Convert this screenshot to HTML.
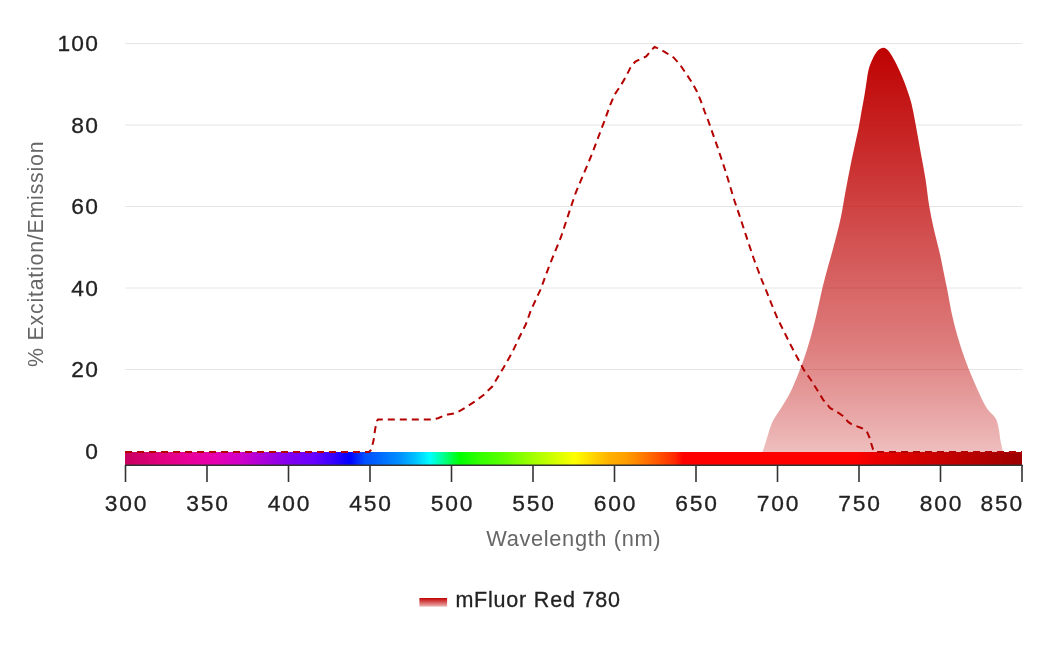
<!DOCTYPE html>
<html><head><meta charset="utf-8"><title>mFluor Red 780 spectrum</title>
<style>
html,body{margin:0;padding:0;background:#fff;}
body{width:1040px;height:650px;overflow:hidden;}
svg{display:block;font-family:'Liberation Sans', Arial, sans-serif;will-change:transform;}
.dk{fill:#222;stroke:#222;stroke-width:0.3px;}
</style></head><body>
<svg width="1040" height="650" viewBox="0 0 1040 650">
<defs>
<linearGradient id="spec" x1="125" y1="0" x2="1022" y2="0" gradientUnits="userSpaceOnUse">
<stop offset="0.0000" stop-color="#c8005e"/>
<stop offset="0.0390" stop-color="#e0007e"/>
<stop offset="0.0725" stop-color="#e8009a"/>
<stop offset="0.1003" stop-color="#e600b0"/>
<stop offset="0.1282" stop-color="#d000c8"/>
<stop offset="0.1616" stop-color="#a000e0"/>
<stop offset="0.1839" stop-color="#8000f0"/>
<stop offset="0.2118" stop-color="#6600ff"/>
<stop offset="0.2341" stop-color="#3000ff"/>
<stop offset="0.2508" stop-color="#0000ff"/>
<stop offset="0.2676" stop-color="#0050ff"/>
<stop offset="0.2787" stop-color="#0060ff"/>
<stop offset="0.3066" stop-color="#0090ff"/>
<stop offset="0.3233" stop-color="#00c0ff"/>
<stop offset="0.3400" stop-color="#00ffff"/>
<stop offset="0.3567" stop-color="#00ff80"/>
<stop offset="0.3735" stop-color="#00ff00"/>
<stop offset="0.3958" stop-color="#33ff00"/>
<stop offset="0.4181" stop-color="#55ff00"/>
<stop offset="0.4459" stop-color="#90ff00"/>
<stop offset="0.4738" stop-color="#c8ff00"/>
<stop offset="0.5017" stop-color="#ffff00"/>
<stop offset="0.5240" stop-color="#ffd000"/>
<stop offset="0.5407" stop-color="#ffb000"/>
<stop offset="0.5574" stop-color="#ffa000"/>
<stop offset="0.5741" stop-color="#ff8000"/>
<stop offset="0.5964" stop-color="#ff5000"/>
<stop offset="0.6132" stop-color="#ff2800"/>
<stop offset="0.6221" stop-color="#ff0000"/>
<stop offset="0.8138" stop-color="#ff0000"/>
<stop offset="0.8305" stop-color="#f00000"/>
<stop offset="0.8640" stop-color="#dc0000"/>
<stop offset="0.9086" stop-color="#c80000"/>
<stop offset="0.9532" stop-color="#b40000"/>
<stop offset="0.9922" stop-color="#a00000"/>
<stop offset="1.0000" stop-color="#a00000"/>
</linearGradient>
<linearGradient id="emg" x1="0" y1="47" x2="0" y2="452" gradientUnits="userSpaceOnUse">
<stop offset="0.0000" stop-color="#be0000" stop-opacity="0.996"/>
<stop offset="0.0321" stop-color="#be0000" stop-opacity="0.976"/>
<stop offset="0.2543" stop-color="#be0000" stop-opacity="0.835"/>
<stop offset="0.5012" stop-color="#be0000" stop-opacity="0.667"/>
<stop offset="0.7481" stop-color="#be0000" stop-opacity="0.502"/>
<stop offset="0.8716" stop-color="#be0000" stop-opacity="0.384"/>
<stop offset="0.9704" stop-color="#be0000" stop-opacity="0.286"/>
<stop offset="1.0000" stop-color="#be0000" stop-opacity="0.257"/>
</linearGradient>
<linearGradient id="leg" x1="0" y1="598" x2="0" y2="606.6" gradientUnits="userSpaceOnUse">
<stop offset="0" stop-color="#c00000"/>
<stop offset="1" stop-color="#eeb4b4"/>
</linearGradient>
</defs>
<rect width="1040" height="650" fill="#fff"/>
<path d="M125 43.5 H1022.5" stroke="#e6e6e6" stroke-width="1"/>
<path d="M125 125.0 H1022.5" stroke="#e6e6e6" stroke-width="1"/>
<path d="M125 206.5 H1022.5" stroke="#e6e6e6" stroke-width="1"/>
<path d="M125 288.0 H1022.5" stroke="#e6e6e6" stroke-width="1"/>
<path d="M125 369.5 H1022.5" stroke="#e6e6e6" stroke-width="1"/>
<text x="99.1" y="51.4" text-anchor="end" font-size="22.8" letter-spacing="1.2" class="dk">100</text>
<text x="99.1" y="132.9" text-anchor="end" font-size="22.8" letter-spacing="1.2" class="dk">80</text>
<text x="99.1" y="214.4" text-anchor="end" font-size="22.8" letter-spacing="1.2" class="dk">60</text>
<text x="99.1" y="295.9" text-anchor="end" font-size="22.8" letter-spacing="1.2" class="dk">40</text>
<text x="99.1" y="377.4" text-anchor="end" font-size="22.8" letter-spacing="1.2" class="dk">20</text>
<text x="99.1" y="458.9" text-anchor="end" font-size="22.8" letter-spacing="1.2" class="dk">0</text>
<text transform="translate(43.1 253.8) rotate(-90)" text-anchor="middle" font-size="21.3" letter-spacing="0.8" fill="#666">% Excitation/Emission</text>
<path d="M762.30 452.00 C762.79 450.85 763.41 449.69 763.80 448.50 C765.46 443.42 766.82 438.07 768.50 433.00 C769.85 428.93 771.07 424.63 773.00 420.80 C775.16 416.50 778.29 412.60 780.80 408.50 C783.90 403.43 787.35 398.33 790.00 393.00 C793.44 386.09 796.38 378.68 799.20 371.50 C801.96 364.49 804.65 357.19 806.90 350.00 C809.73 340.95 812.30 331.50 814.60 322.30 C817.38 311.20 819.67 299.63 822.30 288.50 C823.43 283.69 824.72 278.77 826.00 274.00 C828.31 265.40 830.94 256.61 833.20 248.00 C835.75 238.29 838.47 228.31 840.60 218.50 C842.53 209.62 843.82 200.33 845.50 191.40 C847.49 180.83 849.52 169.93 851.70 159.40 C853.81 149.18 856.41 138.73 858.50 128.50 C859.64 122.92 860.49 117.11 861.50 111.50 C862.50 105.92 863.67 100.19 864.60 94.60 C865.45 89.53 866.10 84.27 866.90 79.20 C867.38 76.16 867.78 73.00 868.50 70.00 C869.07 67.64 869.79 65.21 870.80 63.00 C872.58 59.09 874.21 54.85 876.90 51.50 C878.40 49.63 880.72 48.03 883.10 47.70 C884.78 47.47 886.51 48.79 887.70 50.00 C889.87 52.19 891.44 55.04 893.00 57.70 C895.02 61.15 896.81 64.88 898.50 68.50 C900.37 72.50 902.16 76.70 903.80 80.80 C905.20 84.29 906.51 87.94 907.70 91.50 C909.05 95.53 910.48 99.68 911.50 103.80 C912.89 109.42 913.93 115.31 915.00 121.00 C916.93 131.22 918.75 141.77 920.60 152.00 C922.21 160.91 924.08 170.06 925.50 179.00 C926.91 187.88 927.71 197.13 929.20 206.00 C930.58 214.23 932.37 222.65 934.20 230.80 C936.03 238.96 938.43 247.25 940.30 255.40 C941.40 260.19 942.23 265.19 943.20 270.00 C944.44 276.11 945.78 282.39 947.00 288.50 C949.01 298.56 950.64 309.02 953.00 319.00 C955.20 328.34 957.93 337.85 960.80 347.00 C963.05 354.19 965.74 361.49 968.50 368.50 C971.32 375.68 974.46 383.00 977.70 390.00 C980.57 396.20 983.35 402.72 987.00 408.50 C989.24 412.04 993.20 414.44 995.40 418.00 C997.04 420.67 997.72 423.94 998.40 427.00 C999.51 431.99 999.88 437.27 1000.80 442.30 C1001.39 445.53 1002.27 448.80 1003.00 452.00 Z" fill="url(#emg)"/>
<rect x="125" y="452" width="897" height="13" fill="url(#spec)"/>
<path d="M125.0 451.9 L368.8 451.9 L370.5 450.5 L371.5 448.5 L373.5 440.8 L375.0 430.0 L376.2 423.8 L377.0 421.0 L378.0 419.4 L432.7 419.4 L438.0 418.2 L444.2 415.6 L448.0 414.4 L453.8 413.5 L459.0 411.3 L465.4 407.7 L475.0 401.3 L484.6 394.2 L487.0 391.5 L492.3 386.5 L497.0 378.5 L503.8 367.3 L512.5 351.9 L518.0 340.0 L526.0 324.0 L531.0 310.0 L540.5 289.6 L549.2 266.0 L561.0 237.0 L569.7 210.6 L575.6 193.0 L583.6 174.0 L591.6 155.0 L598.0 138.0 L604.8 120.0 L610.0 105.4 L614.6 94.6 L620.8 85.4 L626.2 76.2 L630.8 66.9 L635.4 61.5 L641.5 58.5 L646.2 56.5 L650.8 50.8 L654.6 46.9 L660.0 49.2 L666.2 52.8 L673.8 57.7 L680.0 64.6 L686.2 73.8 L692.3 83.0 L696.9 91.5 L700.8 100.8 L704.6 111.5 L708.0 120.0 L717.7 147.7 L726.0 172.6 L734.3 200.3 L740.0 217.0 L745.4 233.6 L753.7 258.5 L758.0 270.0 L762.0 280.7 L765.4 288.5 L771.5 304.0 L777.7 319.0 L784.0 331.5 L790.0 343.8 L797.0 357.0 L803.9 370.0 L810.8 379.7 L817.7 390.8 L823.2 399.8 L830.2 408.1 L838.5 412.9 L842.6 415.7 L848.2 421.9 L852.3 424.7 L862.0 428.2 L866.9 431.6 L869.6 437.9 L873.1 449.6 L875.0 451.9 L1022.0 451.9" fill="none" stroke="#b40000" stroke-width="2" stroke-dasharray="7 5"/>
<path d="M125 465.2 H1022.5" stroke="#333" stroke-width="1.5"/>
<path d="M125.5 465 V482" stroke="#333" stroke-width="1.6"/>
<text x="126.4" y="511.4" text-anchor="middle" font-size="22.8" letter-spacing="1.8" class="dk">300</text>
<path d="M207.0 465 V482" stroke="#333" stroke-width="1.6"/>
<text x="207.9" y="511.4" text-anchor="middle" font-size="22.8" letter-spacing="1.8" class="dk">350</text>
<path d="M288.5 465 V482" stroke="#333" stroke-width="1.6"/>
<text x="289.4" y="511.4" text-anchor="middle" font-size="22.8" letter-spacing="1.8" class="dk">400</text>
<path d="M370.0 465 V482" stroke="#333" stroke-width="1.6"/>
<text x="370.9" y="511.4" text-anchor="middle" font-size="22.8" letter-spacing="1.8" class="dk">450</text>
<path d="M451.5 465 V482" stroke="#333" stroke-width="1.6"/>
<text x="452.4" y="511.4" text-anchor="middle" font-size="22.8" letter-spacing="1.8" class="dk">500</text>
<path d="M533.0 465 V482" stroke="#333" stroke-width="1.6"/>
<text x="533.9" y="511.4" text-anchor="middle" font-size="22.8" letter-spacing="1.8" class="dk">550</text>
<path d="M614.5 465 V482" stroke="#333" stroke-width="1.6"/>
<text x="615.4" y="511.4" text-anchor="middle" font-size="22.8" letter-spacing="1.8" class="dk">600</text>
<path d="M696.0 465 V482" stroke="#333" stroke-width="1.6"/>
<text x="696.9" y="511.4" text-anchor="middle" font-size="22.8" letter-spacing="1.8" class="dk">650</text>
<path d="M777.5 465 V482" stroke="#333" stroke-width="1.6"/>
<text x="778.4" y="511.4" text-anchor="middle" font-size="22.8" letter-spacing="1.8" class="dk">700</text>
<path d="M859.0 465 V482" stroke="#333" stroke-width="1.6"/>
<text x="859.9" y="511.4" text-anchor="middle" font-size="22.8" letter-spacing="1.8" class="dk">750</text>
<path d="M940.5 465 V482" stroke="#333" stroke-width="1.6"/>
<text x="941.4" y="511.4" text-anchor="middle" font-size="22.8" letter-spacing="1.8" class="dk">800</text>
<path d="M1022.0 465 V482" stroke="#333" stroke-width="1.6"/>
<text x="1024.0" y="511.4" text-anchor="end" font-size="22.8" letter-spacing="1.8" class="dk">850</text>
<text x="573.8" y="545.6" text-anchor="middle" font-size="21.8" letter-spacing="0.65" fill="#666">Wavelength (nm)</text>
<rect x="419.4" y="598" width="27.7" height="8.6" fill="url(#leg)"/>
<text x="455.4" y="606.9" font-size="21.5" letter-spacing="0.8" class="dk">mFluor Red 780</text>
</svg>
</body></html>
